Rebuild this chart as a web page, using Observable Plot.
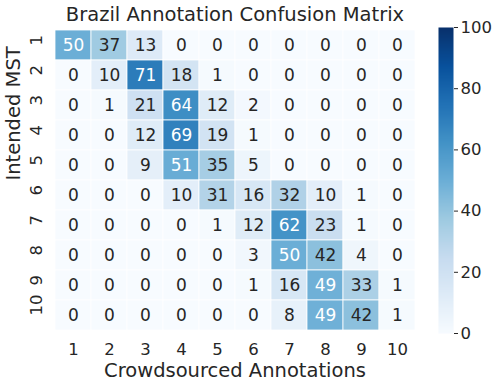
<!DOCTYPE html>
<html>
<head>
<meta charset="utf-8">
<script src="https://cdn.jsdelivr.net/npm/d3@7"></script>
<script src="https://cdn.jsdelivr.net/npm/@observablehq/plot@0.6"></script>
<style>
  body { margin: 0; background: white; }
  #wrap { position: relative; width: 500px; height: 387px; }
  #wrap svg { position: absolute; left: 0; top: 0; }
</style>
</head>
<body>
<div id="wrap"></div>
<script>
const title = "Brazil Annotation Confusion Matrix";
const xLabel = "Crowdsourced Annotations";
const yLabel = "Intended MST";
const rows = [1, 2, 3, 4, 5, 6, 7, 8, 9, 10];
const cols = [1, 2, 3, 4, 5, 6, 7, 8, 9, 10];
const matrix = [
  [50, 37, 13, 0, 0, 0, 0, 0, 0, 0],
  [0, 10, 71, 18, 1, 0, 0, 0, 0, 0],
  [0, 1, 21, 64, 12, 2, 0, 0, 0, 0],
  [0, 0, 12, 69, 19, 1, 0, 0, 0, 0],
  [0, 0, 9, 51, 35, 5, 0, 0, 0, 0],
  [0, 0, 0, 10, 31, 16, 32, 10, 1, 0],
  [0, 0, 0, 0, 1, 12, 62, 23, 1, 0],
  [0, 0, 0, 0, 0, 3, 50, 42, 4, 0],
  [0, 0, 0, 0, 0, 1, 16, 49, 33, 1],
  [0, 0, 0, 0, 0, 0, 8, 49, 42, 1]
];
const colorTicks = [0, 20, 40, 60, 80, 100];
const blues9 = ["#f7fbff", "#deebf7", "#c6dbef", "#9ecae1", "#6baed6", "#4292c6", "#2171b5", "#08519c", "#08306b"];

const interp = d3.piecewise(d3.interpolateRgb, blues9);
const colorScale = {type: "linear", domain: [0, 100], interpolate: interp};

const cells = [];
rows.forEach((r, i) => cols.forEach((c, j) => cells.push({row: r, col: c, value: matrix[i][j]})));

function lum(v) {
  const c = d3.rgb(interp(Math.max(0, Math.min(1, v / 100))));
  const f = (u) => { u /= 255; return u <= 0.03928 ? u / 12.92 : Math.pow((u + 0.055) / 1.055, 2.4); };
  return 0.2126 * f(c.r) + 0.7152 * f(c.g) + 0.0722 * f(c.b);
}
const textColor = (d) => lum(d.value) > 0.408 ? "#262626" : "white";

const font = "DejaVu Sans, sans-serif";
const main = Plot.plot({
  width: 500, height: 387,
  marginLeft: 54, marginRight: 85, marginTop: 27, marginBottom: 54,
  style: {fontFamily: font, color: "#262626", background: "white"},
  x: {type: "band", domain: cols, padding: 0},
  y: {type: "band", domain: rows, padding: 0, axis: null},
  color: colorScale,
  marks: [
    Plot.cell(cells, {x: "col", y: "row", fill: "value", stroke: "white", strokeWidth: 0.8, inset: 0}),
    Plot.text(cells, {x: "col", y: "row", text: (d) => String(d.value), fill: textColor, fontSize: 17}),
    Plot.axisX({tickSize: 0, tickPadding: 10, fontSize: 16.5, label: null}),
    Plot.text(rows, {y: (d) => d, text: (d) => String(d), frameAnchor: "left", dx: -18, rotate: -90, fontSize: 16.5, fill: "#262626", lineAnchor: "middle"}),
    Plot.text([xLabel], {frameAnchor: "bottom", dy: 37, fontSize: 19.5, fill: "#262626", lineAnchor: "middle"}),
    Plot.text([yLabel], {frameAnchor: "left", dx: -41, rotate: -90, fontSize: 19.5, fill: "#262626", lineAnchor: "middle"}),
    Plot.text([title], {frameAnchor: "top", dy: -12.5, fontSize: 19.5, fill: "#262626", lineAnchor: "middle"})
  ]
});

const bar = Plot.plot({
  width: 500, height: 387,
  marginLeft: 438, marginRight: 47, marginTop: 27, marginBottom: 54,
  style: {fontFamily: font, color: "#262626", background: "transparent"},
  x: {domain: [0, 1], axis: null},
  y: {domain: [0, 100]},
  color: colorScale,
  marks: [
    Plot.raster({fill: (x, y) => y, x1: 0, x2: 1, y1: 0, y2: 100, width: 1, height: 300, imageRendering: "auto"}),
    Plot.axisY({anchor: "right", ticks: colorTicks, tickSize: 4, tickPadding: 3, fontSize: 16.5, label: null})
  ]
});

document.getElementById("wrap").append(main, bar);
</script>
</body>
</html>
